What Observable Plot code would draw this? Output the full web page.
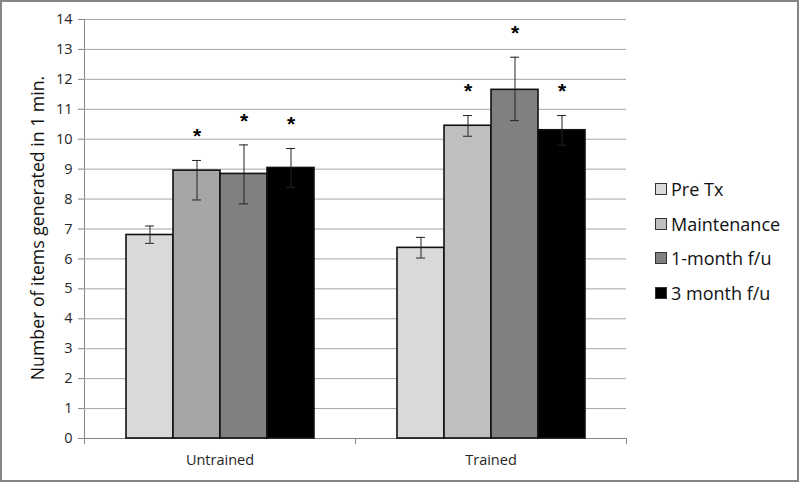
<!DOCTYPE html>
<html>
<head>
<meta charset="utf-8">
<script src="https://cdn.jsdelivr.net/npm/d3@7"></script>
<script src="https://cdn.jsdelivr.net/npm/@observablehq/plot@0.6"></script>
<style>
  html, body { margin: 0; padding: 0; background: #fff; }
  #wrap { position: relative; width: 800px; height: 483px; overflow: hidden; background: #fff; }
  #frame { position: absolute; left: 0; top: 0; width: 799px; height: 482px; box-sizing: border-box; border: 2px solid #868686; pointer-events: none; }
  #chart { position: absolute; left: 0; top: 0; }
  #ylabel { position: absolute; left: 37px; top: 228px; transform: translate(-50%, -50%) rotate(-90deg);
            white-space: nowrap; font-family: "Open Sans", sans-serif; font-size: 17.7px; color: #111; }
  #legend { position: absolute; left: 655px; top: 177px; font-family: "Open Sans", sans-serif; font-size: 18px; color: #111; }
  .item { position: absolute; left: 0; white-space: nowrap; display: flex; align-items: center; height: 24px; }
  .sw { width: 10px; height: 10px; border: 1px solid #333; margin-right: 4px; }
  svg [aria-label$="tick label"] { color: #262626; }
</style>
</head>
<body>
<div id="wrap">
  <div id="chart"></div>
  <div id="ylabel"></div>
  <div id="legend"></div>
  <div id="frame"></div>
</div>
<script>
const groups = ["Untrained", "Trained"];
const seriesNames = ["Pre Tx", "Maintenance", "1-month f/u", "3 month f/u"];
const untrainedValues = [6.80, 8.95, 8.84, 9.04];
const trainedValues = [6.37, 10.45, 11.65, 10.30];
const untrainedErrLow = [0.28, 0.98, 1.00, 0.65];
const untrainedErrHigh = [0.30, 0.34, 0.97, 0.65];
const trainedErrLow = [0.34, 0.35, 1.03, 0.50];
const trainedErrHigh = [0.35, 0.34, 1.09, 0.49];
const untrainedSignificant = [false, true, true, true];
const trainedSignificant = [false, true, true, true];
const yTicks = [0, 1, 2, 3, 4, 5, 6, 7, 8, 9, 10, 11, 12, 13, 14];
const yLabel = "Number of items generated in 1 min.";

const seriesColors = ["#d9d9d9", "#bfbfbf", "#808080", "#000000"];

const byGroup = {
  Untrained: {v: untrainedValues, lo: untrainedErrLow, hi: untrainedErrHigh, sig: untrainedSignificant},
  Trained: {v: trainedValues, lo: trainedErrLow, hi: trainedErrHigh, sig: trainedSignificant}
};
const data = groups.flatMap(g => seriesNames.map((s, i) => ({
  group: g,
  series: s,
  value: byGroup[g].v[i],
  lo: byGroup[g].v[i] - byGroup[g].lo[i],
  hi: byGroup[g].v[i] + byGroup[g].hi[i],
  sig: byGroup[g].sig[i]
})));

const W = 800, H = 483, ML = 84, MR = 174, MT = 19, MB = 45;
const half = (W - ML - MR) / groups.length / 2;

const color = d3.scaleOrdinal(seriesNames, seriesColors);
const fillOf = d => (d.group === "Untrained" && d.series === "Maintenance") ? "#a6a6a6" : color(d.series);

const plot = Plot.plot({
  width: W, height: H,
  marginLeft: ML, marginRight: MR, marginTop: MT, marginBottom: MB,
  style: {fontFamily: "Open Sans, sans-serif", fontSize: "14.5px", color: "#868686", background: "transparent"},
  fx: {domain: groups, padding: 0, label: null},
  x: {domain: seriesNames, paddingInner: 0, paddingOuter: 0.838, axis: null},
  y: {domain: [0, 14], ticks: yTicks, tickSize: 6, tickPadding: 6, line: true, label: null},
  marks: [
    Plot.gridY(yTicks, {stroke: "#a6a6a6", strokeOpacity: 1}),
    Plot.ruleY([0], {stroke: "#868686"}),
    Plot.axisFx({anchor: "bottom", tickSize: 0, tickPadding: 16, label: null}),
    Plot.axisFx({anchor: "bottom", tickSize: 6, tickFormat: () => "", dx: -half, label: null, stroke: "#868686"}),
    Plot.axisFx({anchor: "bottom", tickSize: 6, tickFormat: () => "", dx: half, label: null, stroke: "#868686"}),
    Plot.barY(data, {fx: "group", x: "series", y: "value", fill: fillOf, stroke: "#111", strokeWidth: 1.6}),
    Plot.ruleX(data, {fx: "group", x: "series", y1: "lo", y2: "hi", stroke: "#222", strokeWidth: 1}),
    Plot.tickY(data, {fx: "group", x: "series", y: "hi", stroke: "#222", strokeWidth: 1, insetLeft: 19, insetRight: 19}),
    Plot.tickY(data, {fx: "group", x: "series", y: "lo", stroke: "#222", strokeWidth: 1, insetLeft: 19, insetRight: 19}),
    Plot.text(data.filter(d => d.sig), {fx: "group", x: "series", y: "hi", text: () => "*", dy: -24,
      fontSize: 21, fontWeight: "bold", fontFamily: "Liberation Sans, sans-serif", fill: "#000"})
  ]
});
document.getElementById("chart").appendChild(plot);
document.getElementById("ylabel").textContent = yLabel;

const legend = document.getElementById("legend");
seriesNames.forEach((s, i) => {
  const item = document.createElement("div");
  item.className = "item";
  item.style.top = (i * 34.7) + "px";
  const sw = document.createElement("span");
  sw.className = "sw";
  sw.style.background = color(s);
  const label = document.createElement("span");
  label.textContent = s;
  item.appendChild(sw);
  item.appendChild(label);
  legend.appendChild(item);
});
</script>
</body>
</html>
